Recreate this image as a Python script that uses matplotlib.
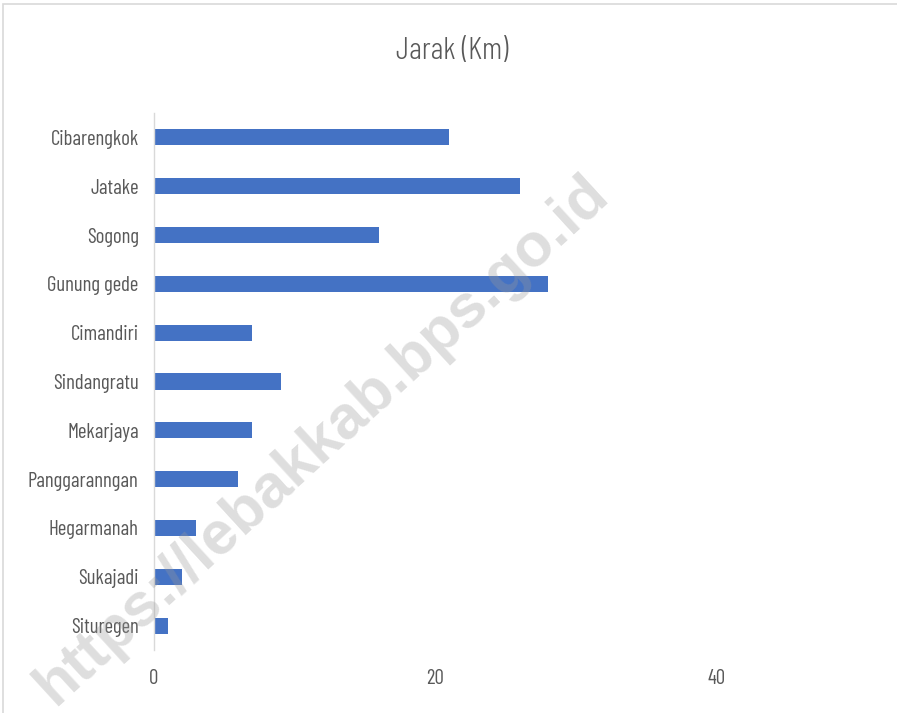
import matplotlib
matplotlib.use("Agg")
import matplotlib.pyplot as plt
from matplotlib.patches import Rectangle

categories = ["Cibarengkok", "Jatake", "Sogong", "Gunung gede", "Cimandiri",
              "Sindangratu", "Mekarjaya", "Panggaranngan", "Hegarmanah",
              "Sukajadi", "Situregen"]
values = [21, 26, 16, 28, 7, 9, 7, 6, 3, 2, 1]
xticks = [0, 20, 40]
title = "Jarak (Km)"
watermark = "https://lebakkab.bps.go.id"

W, H = 897, 713
fig = plt.figure(figsize=(W / 100, H / 100), dpi=100)
fig.patch.set_facecolor("white")

font = ["Barlow Condensed", "DejaVu Sans"]
fw = 400
txt = "#595959"

# chart border (cropped chart area)
fig.patches.append(Rectangle((3 / W, -0.1), 1.2, (H - 4) / H + 0.1,
                             transform=fig.transFigure, fill=False,
                             edgecolor="#d9d9d9", linewidth=1.2))

ax = fig.add_axes([154 / W, 63 / H, 844 / W, 537 / H])
ypos = list(range(len(categories)))
ax.barh(ypos, values, height=0.33, color="#4472C4")
ax.set_ylim(len(categories) - 0.5, -0.5)
ax.set_xlim(0, 60)
ax.set_yticks(ypos)
ax.set_yticklabels(categories, fontfamily=font, fontweight=fw, fontsize=15, color=txt)
ax.set_xticks(xticks)
ax.set_xticklabels([str(t) for t in xticks], fontfamily=font, fontweight=fw,
                   fontsize=15, color=txt)
ax.tick_params(axis="both", length=0)
ax.tick_params(axis="y", pad=11)
ax.tick_params(axis="x", pad=14)
for s in ["top", "right", "bottom"]:
    ax.spines[s].set_visible(False)
ax.spines["left"].set_color("#d9d9d9")
ax.spines["left"].set_linewidth(1.0)
ax.set_facecolor("none")

fig.text(452 / W, 1 - 51 / H, title, fontfamily=font, fontweight=300, fontsize=22.5,
         color=txt, ha="center", va="center")

fig.text(322 / W, 1 - 440 / H, watermark, fontfamily="Liberation Sans",
         fontweight="bold", fontsize=44, color="#9a9a9a", alpha=0.32,
         rotation=42.5, ha="center", va="center", rotation_mode="anchor")

fig.savefig("out.png", dpi=100)
